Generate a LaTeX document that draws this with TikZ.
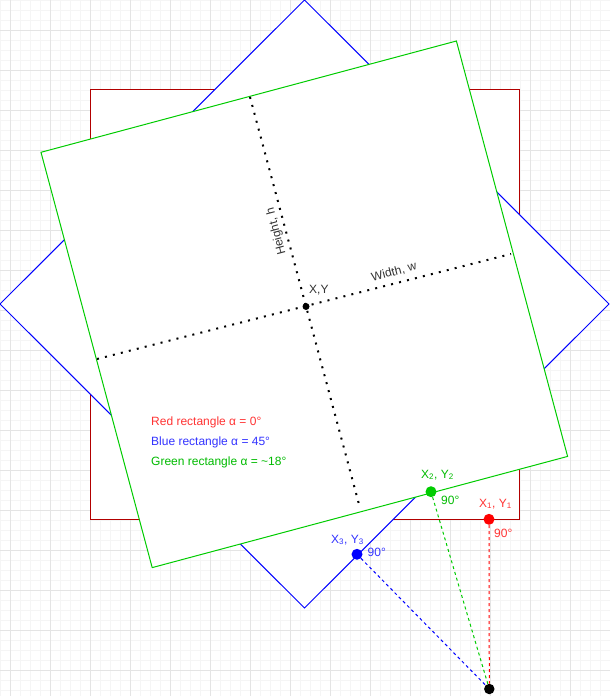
\documentclass[tikz,border=0pt]{standalone}
\usepackage{fontspec}
\setmainfont{Liberation Sans}
\definecolor{redline}{HTML}{B20000}
\definecolor{redtxt}{HTML}{FF3333}
\definecolor{reddot}{HTML}{FF0000}
\definecolor{bluetxt}{HTML}{3333FF}
\definecolor{blueline}{HTML}{0000FF}
\definecolor{greenline}{HTML}{00CC00}
\definecolor{greentxt}{HTML}{00BB00}
\definecolor{darktxt}{HTML}{333333}
\definecolor{minorc}{HTML}{F5F5F5}
\definecolor{majorc}{HTML}{E4E4E4}
\begin{document}
\begin{tikzpicture}[x=1pt,y=-1pt,
  minorgrid/.style={draw=minorc,line width=0.8},
  majorgrid/.style={draw=majorc,line width=0.8},
  shapeline/.style={line width=1,line join=miter,fill=white},
  dot/.style={circle,fill,inner sep=0,minimum size=11},
  lbl/.style={inner sep=0,anchor=base west,font=\fontsize{12}{14}\selectfont},
  rlbl/.style={inner sep=0,font=\fontsize{12}{14}\selectfont,text=darktxt},
  conn/.style={line width=1,dash pattern=on 3 off 3},
  axisline/.style={line width=2,dash pattern=on 2 off 6.2}]
\useasboundingbox (0,0) rectangle (610,696);
\fill[white] (0,0) rectangle (610,696);
% grid
\foreach \i in {0,...,61} {\draw[minorgrid] (\i*10+0.5,0) -- (\i*10+0.5,696);}
\foreach \i in {0,...,69} {\draw[minorgrid] (0,\i*10+0.5) -- (610,\i*10+0.5);}
\foreach \i in {0,...,15} {\draw[majorgrid] (\i*40+10.5,0) -- (\i*40+10.5,696);}
\foreach \i in {0,...,16} {\draw[majorgrid] (0,\i*40+30.5) -- (610,\i*40+30.5);}
% rectangles
\draw[shapeline,draw=redline] (90,89) rectangle (519,519);
\draw[shapeline,draw=blueline] (304.5,0) -- (609,304) -- (304.5,608) -- (0,304) -- cycle;
\draw[shapeline,draw=greenline] (41,152.3) -- (456.4,41) -- (567.6,456.4) -- (152.2,567.6) -- cycle;
% axes
\coordinate (ht) at (250,97);
\coordinate (hb) at (360,508);
\coordinate (wl) at (97,359);
\coordinate (wr) at (511,254);
\draw[axisline] (ht) -- (hb);
\draw[axisline] (wl) -- (wr);
\node[dot,fill=black,minimum size=7] (c) at (306,306.5) {};
\node[lbl,text=darktxt] (cl) at (309,293) {X,Y};
\node[rlbl,rotate=15] (wlab) at (394,272) {Width, w};
\node[rlbl,rotate=105] (hlab) at (276.5,231.5) {Height, h};
% legend
\node[lbl,text=redtxt] (leg1) at (151,425) {Red rectangle α = 0°};
\node[lbl,text=bluetxt] (leg2) at (151,445.5) {Blue rectangle α = 45°};
\node[lbl,text=greentxt] (leg3) at (151,465.7) {Green rectangle α = \textasciitilde18°};
% points
\node[dot,fill=reddot] (p1) at (489,519.3) {};
\node[dot,fill=greenline] (p2) at (431,491.7) {};
\node[dot,fill=blueline] (p3) at (357,554.3) {};
\node[dot,fill=black,minimum size=10.5] (b) at (489.3,689) {};
\draw[conn,draw=reddot] (p1) -- (b);
\draw[conn,draw=greenline] (p2) -- (b);
\draw[conn,draw=blueline] (p3) -- (b);
% point labels
\node[lbl,text=redtxt] (l1) at (479,507) {X\textsubscript{1}, Y\textsubscript{1}};
\node[lbl,text=redtxt] (a1) at (494,537) {90°};
\node[lbl,text=greentxt] (l2) at (421,478) {X\textsubscript{2}, Y\textsubscript{2}};
\node[lbl,text=greentxt] (a2) at (441,504) {90°};
\node[lbl,text=bluetxt] (l3) at (331,543) {X\textsubscript{3}, Y\textsubscript{3}};
\node[lbl,text=bluetxt] (a3) at (367.5,556.5) {90°};
\end{tikzpicture}
\end{document}
